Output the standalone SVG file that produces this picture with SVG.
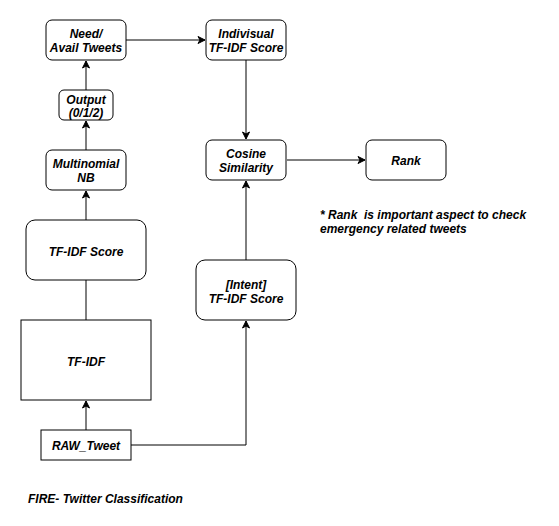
<svg xmlns="http://www.w3.org/2000/svg" width="559" height="526" viewBox="0 0 559 526">
<defs>
<marker id="arr" markerWidth="10" markerHeight="10" refX="8" refY="5" orient="auto" markerUnits="userSpaceOnUse">
<path d="M1,1.5 L8,5 L1,8.5 L3,5 Z" fill="#000" stroke="#000" stroke-width="1"/>
</marker>
<style>
.n{fill:#fff;stroke:#000;stroke-width:1}
.t{font-family:"Liberation Sans",Arial,sans-serif;font-size:12px;font-weight:bold;font-style:italic;fill:#000;text-anchor:middle}
.l{font-family:"Liberation Sans",Arial,sans-serif;font-size:12px;font-weight:bold;font-style:italic;fill:#000;white-space:pre}
.c{fill:none;stroke:#000;stroke-width:1}
</style>
</defs>
<rect width="559" height="526" fill="#fff"/>
<g id="connectors">
<path class="c" d="M86,430 V401" marker-end="url(#arr)"/>
<path class="c" d="M86,320 V280"/>
<path class="c" d="M86,220 V191" marker-end="url(#arr)"/>
<path class="c" d="M86,150 V121" marker-end="url(#arr)"/>
<path class="c" d="M86,90 V61" marker-end="url(#arr)"/>
<path class="c" d="M126,40 H205" marker-end="url(#arr)"/>
<path class="c" d="M246,60 V139" marker-end="url(#arr)"/>
<path class="c" d="M131,445 H246 V321" marker-end="url(#arr)"/>
<path class="c" d="M246,260 V181" marker-end="url(#arr)"/>
<path class="c" d="M287,160 H365" marker-end="url(#arr)"/>
</g>
<g id="need"><rect class="n" x="46" y="20" width="80" height="40" rx="6"/><text class="t" x="86" y="38">Need/</text><text class="t" x="86" y="52">Avail Tweets</text></g>
<g id="indivisual"><rect class="n" x="206" y="20" width="80" height="40" rx="6"/><text class="t" x="246" y="38">Indivisual</text><text class="t" x="246" y="52">TF-IDF Score</text></g>
<g id="output"><rect class="n" x="59" y="90" width="54" height="30" rx="5"/><text class="t" x="86" y="104">Output</text><text class="t" x="86" y="117">(0/1/2)</text></g>
<g id="multinomial"><rect class="n" x="46" y="150" width="80" height="40" rx="6"/><text class="t" x="86" y="168">Multinomial</text><text class="t" x="86" y="182">NB</text></g>
<g id="cosine"><rect class="n" x="206" y="140" width="80" height="40" rx="6"/><text class="t" x="246" y="158">Cosine</text><text class="t" x="246" y="172">Similarity</text></g>
<g id="rank"><rect class="n" x="366" y="140" width="80" height="40" rx="6"/><text class="t" x="406" y="165">Rank</text></g>
<g id="tfidf-score"><rect class="n" x="26" y="220" width="120" height="60" rx="9"/><text class="t" x="86" y="256">TF-IDF Score</text></g>
<g id="intent"><rect class="n" x="196" y="260" width="100" height="60" rx="9"/><text class="t" x="246" y="289">[Intent]</text><text class="t" x="246" y="303">TF-IDF Score</text></g>
<g id="tfidf"><rect class="n" x="21" y="320" width="130" height="80"/><text class="t" x="86" y="366">TF-IDF</text></g>
<g id="raw"><rect class="n" x="41" y="430" width="90" height="30"/><text class="t" x="86" y="450">RAW_Tweet</text></g>
<g id="note"><text class="l" x="320" y="219" xml:space="preserve">* Rank  is important aspect to check</text><text class="l" x="320" y="233">emergency related tweets</text></g>
<g id="title"><text class="l" x="28" y="503">FIRE- Twitter Classification</text></g>
</svg>
